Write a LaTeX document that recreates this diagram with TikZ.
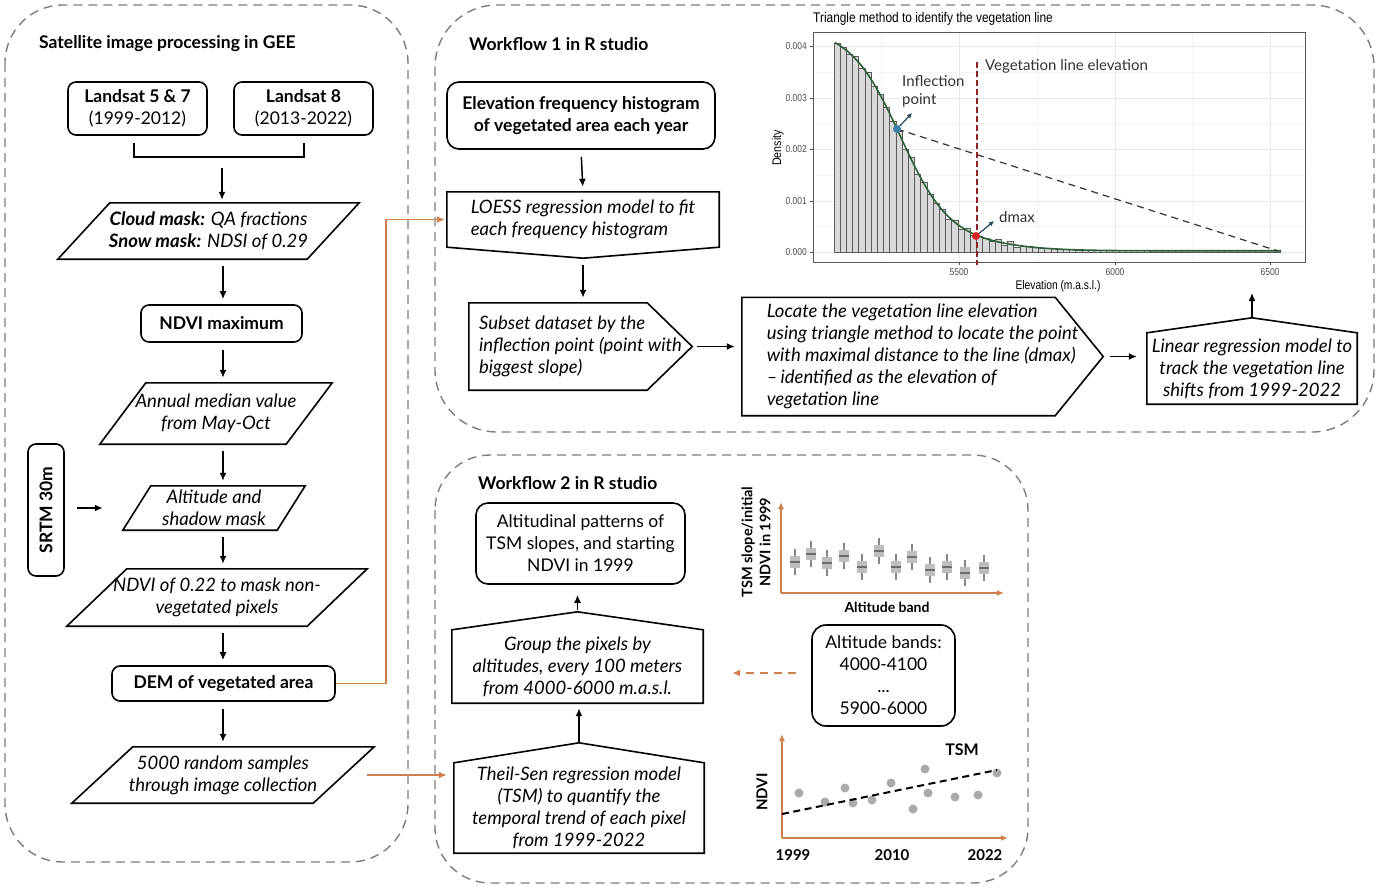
\documentclass[tikz,border=0pt]{standalone}
\usepackage{fontspec}
\setmainfont{Lato}
\newfontfamily\plotfont{Liberation Sans}
\usetikzlibrary{arrows.meta,calc}
\definecolor{orng}{RGB}{207,127,75}
\definecolor{panelgray}{RGB}{125,125,125}
\definecolor{curvegreen}{RGB}{45,95,55}
\definecolor{vred}{RGB}{140,35,40}
\definecolor{ipblue}{RGB}{65,125,170}
\definecolor{dotred}{RGB}{215,35,35}
\definecolor{slate}{RGB}{40,72,92}
\definecolor{bargray}{RGB}{217,217,217}
\definecolor{baredge}{RGB}{90,90,90}
\definecolor{gridgray}{RGB}{232,232,232}
\definecolor{gridminor}{RGB}{244,244,244}
\definecolor{ticktext}{RGB}{77,77,77}
\definecolor{bpgray}{RGB}{190,190,190}
\definecolor{bpwhisk}{RGB}{135,135,135}
\definecolor{dotgray}{RGB}{170,170,170}
\definecolor{annot}{RGB}{50,50,50}
\newcommand\mybody{\fontsize{17.5}{22}\selectfont}
\newcommand\myital{\fontsize{18.5}{22}\selectfont\itshape}
\newcommand\mytitle{\fontsize{17.5}{20}\selectfont\bfseries}
\newcommand\drawpara[2]{\draw[shp] ([xshift=#2]#1.north west) -- (#1.north east) -- ([xshift=-#2]#1.south east) -- (#1.south west) -- cycle;}
\tikzset{
  panel/.style={draw=panelgray, line width=1.4pt, dash pattern=on 9pt off 6pt},
  shp/.style={draw=black, line width=1.6pt, line join=miter},
  txt/.style={font=\mybody, align=center, inner sep=0pt},
  rbox/.style={txt, draw=black, line width=1.6pt, rounded corners=8pt},
  pnode/.style={txt, font=\myital},
  arr/.style={-{Latex[length=8pt,width=7pt]}, line width=1.5pt, shorten <=7pt, shorten >=5pt},
  oarr/.style={-{Latex[length=8pt,width=7pt]}, line width=1.6pt, orng},
  ttl/.style={font=\mytitle, anchor=west, inner sep=0pt},
  bar/.style={fill=bargray, draw=baredge, line width=0.8pt},
  oaxis/.style={-{Latex[length=7pt,width=6pt]}, line width=1.5pt, orng},
  lbl/.style={font=\fontsize{15}{17}\selectfont\bfseries, inner sep=0pt},
  ann/.style={font=\fontsize{15}{18}\selectfont, text=annot, inner sep=0pt, anchor=west, align=left},
  tick/.style={font=\plotfont\fontsize{10}{12}\selectfont, text=ticktext, inner sep=0pt},
}
\begin{document}
\begin{tikzpicture}[x=1pt,y=-1pt]
\useasboundingbox (0,0) rectangle (1378,889);
\fill[white] (0,0) rectangle (1378,889);

% ---------- panels ----------
\draw[panel, rounded corners=58pt] (5,5) rectangle (408,862);
\draw[panel, rounded corners=62pt] (435,5) rectangle (1374,432);
\draw[panel, rounded corners=55pt] (435,455) rectangle (1028,883);

\node[ttl] (t1) at (39,44) {Satellite image processing in GEE};
\node[ttl] (t2) at (469,44) {Workflow 1 in R studio};
\node[ttl] (t3) at (478,483) {Workflow 2 in R studio};

% ---------- left column ----------
\coordinate (col) at (223,0);
\node[rbox, minimum width=139pt, minimum height=53pt] (l57) at (137.5,108.5) {\textbf{Landsat 5 \& 7}\\(1999-2012)};
\node[rbox, minimum width=139pt, minimum height=53pt] (l8) at (303.5,108.5) {\textbf{Landsat 8}\\(2013-2022)};
\coordinate (bl) at (134,157);
\coordinate (br) at (304,157);
\coordinate (bm) at (222,157);
\draw[line width=1.5pt] (134,143) -- (bl) -- (br) -- (304,143);

\node[pnode, minimum width=301pt, minimum height=56pt] (cloud) at (208.5,231) {\textbf{Cloud mask:} QA fractions\\\textbf{Snow mask:} NDSI of 0.29};
\drawpara{cloud}{52pt}
\draw[arr, shorten <=11pt, shorten >=3pt] (bm) -- (cloud.north -| bm);

\node[rbox, font=\mybody\bfseries, minimum width=161pt, minimum height=37pt] (ndvimax) at (221.5,323.5) {NDVI maximum};
\draw[arr] (cloud.south -| col) -- (ndvimax.north -| col);

\node[pnode, minimum width=232pt, minimum height=61pt] (annual) at (216,413.5) {Annual median value\\from May-Oct};
\drawpara{annual}{46pt}
\draw[arr] (ndvimax.south -| col) -- (annual.north -| col);

\node[pnode, minimum width=182pt, minimum height=44pt] (alt) at (214,508) {Altitude and\\shadow mask};
\drawpara{alt}{28pt}
\draw[arr] (annual.south -| col) -- (alt.north -| col);

\node[rbox, font=\mybody\bfseries, rotate=90, minimum width=132pt, minimum height=36pt] (srtm) at (46,510) {SRTM 30m};
\draw[arr, shorten <=12pt, shorten >=20pt] (srtm.south |- alt.west) -- (alt.west);

\node[pnode, minimum width=300pt, minimum height=57pt] (ndvi22) at (217,597.5) {NDVI of 0.22 to mask non-\\vegetated pixels};
\drawpara{ndvi22}{60pt}
\draw[arr] (alt.south -| col) -- (ndvi22.north -| col);

\node[rbox, font=\mybody\bfseries, minimum width=223pt, minimum height=35pt] (dem) at (223.5,683.5) {DEM of vegetated area};
\draw[arr] (ndvi22.south -| col) -- (dem.north -| col);

\node[pnode, minimum width=302pt, minimum height=56pt] (random) at (223,775) {5000 random samples\\through image collection};
\drawpara{random}{61pt}
\draw[arr] (dem.south -| col) -- (random.north -| col);

% ---------- workflow 1 ----------
\node[rbox, font=\mybody\bfseries, rounded corners=12pt, minimum width=268pt, minimum height=67pt] (elev) at (581,115.5) {Elevation frequency histogram\\of vegetated area each year};

\node[pnode, align=left, minimum width=272pt, minimum height=55pt] (loess) at (583,219.5) {LOESS regression model to fit\\each frequency histogram};
\coordinate (loesstip) at ([yshift=-11pt]loess.south);
\draw[shp] (loess.north west) -- (loess.north east) -- (loess.south east) -- (loesstip) -- (loess.south west) -- cycle;
\draw[arr] (elev.south) -- (loess.north);

\node[pnode, align=left, minimum width=223pt, minimum height=87pt] (subset) at (580.5,346.5) {Subset dataset by the\\inflection point (point with\\biggest slope)};
\draw[shp] (subset.north west) -- ([xshift=-45pt]subset.north east) -- (subset.east) -- ([xshift=-45pt]subset.south east) -- (subset.south west) -- cycle;
\draw[arr] (loesstip) -- (subset.north -| loesstip);

\node[pnode, align=left, minimum width=361pt, minimum height=118pt] (locate) at (922.5,356.5) {Locate the vegetation line elevation\\using triangle method to locate the point\\with maximal distance to the line (dmax)\\\textendash\,identified as the elevation of\\vegetation line};
\draw[shp] (locate.north west) -- ([xshift=-48pt]locate.north east) -- (locate.east) -- ([xshift=-48pt]locate.south east) -- (locate.south west) -- cycle;
\draw[arr, shorten <=5pt, shorten >=7pt] (subset.east) -- (subset.east -| locate.west);

\node[pnode, minimum width=210pt, minimum height=71pt] (linreg) at (1252,368.5) {Linear regression model to\\track the vegetation line\\shifts from 1999-2022};
\coordinate (lrtip) at ([yshift=15pt]linreg.north);
\draw[shp] (linreg.south west) -- (linreg.north west) -- (lrtip) -- (linreg.north east) -- (linreg.south east) -- cycle;
\draw[arr, shorten <=7pt, shorten >=10pt] (locate.east) -- (locate.east -| linreg.west);
\coordinate (plotbot) at (1252,293);
\draw[arr, shorten <=0pt, shorten >=0pt] (lrtip) -- (plotbot);

% orange connector DEM -> LOESS
\draw[oarr] (dem.east) -- ++(50,0) |- ([xshift=-2pt]loess.west);

% ---------- histogram plot ----------
\node[font=\plotfont\fontsize{14}{16}\selectfont, anchor=west, inner sep=0pt] (ptitle) at (813,19) {\scalebox{0.85}[1]{Triangle method to identify the vegetation line}};
\foreach \yy in {72,123.5,175,226.5} \draw[gridminor, line width=0.6pt] (813,\yy) -- (1305,\yy);
\foreach \xx in {881,1037,1192.5} \draw[gridminor, line width=0.6pt] (\xx,32) -- (\xx,262);
\foreach \yy in {46,98,149,201,252} \draw[gridgray, line width=0.9pt] (813,\yy) -- (1305,\yy);
\foreach \xx in {959,1115,1270} \draw[gridgray, line width=0.9pt] (\xx,32) -- (\xx,262);
\foreach \i in {0,...,71}{
  \pgfmathsetmacro\xl{834+6.2*\i}
  \pgfmathsetmacro\xc{\xl+3.1}
  \pgfmathsetmacro\hh{215/(1+exp(min((\xc-900)/25,9))) + 8/(1+exp(min((\xc-1010)/30,9))) + 1.2 + (\i<30 ? 2.5*sin(\i*157) : 0)}
  \draw[bar] (\xl,252) rectangle (\xl+6.2,252-\hh);
}
\draw[curvegreen, line width=1.6pt] plot[domain=835:1281, samples=150] (\x, {252 - (215/(1+exp(min((\x-900)/25,9))) + 8/(1+exp(min((\x-1010)/30,9))) + 1.2)});
\draw[gray!70!black, line width=0.9pt] (813,32) rectangle (1305,262);
\foreach \yy/\lab in {46/0.004,98/0.003,149/0.002,201/0.001,252/0.000}{
  \draw[ticktext, line width=0.7pt] (810,\yy) -- (813,\yy);
  \node[tick, anchor=east] at (807,\yy) {\scalebox{0.85}[1]{\lab}};
}
\foreach \xx/\lab in {959/5500,1115/6000,1270/6500}{
  \draw[ticktext, line width=0.7pt] (\xx,262) -- (\xx,265);
  \node[tick] at (\xx,272) {\scalebox{0.85}[1]{\lab}};
}
\node[font=\plotfont\fontsize{12.5}{14}\selectfont, inner sep=0pt] (xtitle) at (1058,286) {\scalebox{0.82}[1]{Elevation (m.a.s.l.)}};
\node[font=\plotfont\fontsize{12.5}{14}\selectfont, inner sep=0pt, rotate=90] (ytitle) at (778,148) {\scalebox{0.85}[1]{Density}};
\draw[gray!40!black, line width=1.2pt, dash pattern=on 7pt off 5pt] (897,129) -- (1278,251);
\draw[vred, line width=1.5pt, dash pattern=on 6pt off 3pt] (977,62) -- (977,265);
\coordinate (ipt) at (897,129);
\coordinate (dpt) at (976,236);
\draw[slate, line width=1.2pt, -{Latex[length=5pt,width=5pt]}] (ipt) -- (912,113);
\draw[slate, line width=1.2pt, -{Latex[length=5pt,width=5pt]}] (dpt) -- (994,221);
\fill[ipblue] (ipt) circle (4pt);
\fill[dotred] (dpt) circle (4pt);
\node[ann] (inflab) at (902,91.5) {Inflection\\point};
\node[ann] (veglab) at (985,66) {Vegetation line elevation};
\node[ann] (dmaxlab) at (999,217) {dmax};

% ---------- workflow 2 ----------
\node[rbox, rounded corners=12pt, minimum width=209pt, minimum height=81pt] (altpat) at (580.5,543.5) {Altitudinal patterns of\\TSM slopes, and starting\\NDVI in 1999};

\node[pnode, minimum width=251pt, minimum height=73pt] (group) at (577.5,666.5) {Group the pixels by\\altitudes, every 100 meters\\from 4000-6000 m.a.s.l.};
\coordinate (grtip) at ([yshift=18pt]group.north);
\draw[shp] (group.south west) -- (group.north west) -- (grtip) -- (group.north east) -- (group.south east) -- cycle;
\draw[arr, shorten <=2pt, shorten >=10pt] (grtip) -- (altpat.south -| grtip);

\node[pnode, minimum width=250pt, minimum height=90pt] (theil) at (579,808) {Theil-Sen regression model\\(TSM) to quantify the\\temporal trend of each pixel\\from 1999-2022};
\coordinate (thtip) at ([yshift=20pt]theil.north);
\draw[shp] (theil.south west) -- (theil.north west) -- (thtip) -- (theil.north east) -- (theil.south east) -- cycle;
\draw[arr, shorten <=1pt, shorten >=5pt] (thtip) -- (group.south -| thtip);

% orange connector random -> Theil-Sen
\draw[oarr] ([xshift=-7pt]random.east) -- ([xshift=-7pt]random.east -| theil.west);

\node[rbox, font=\mybody, rounded corners=14pt, minimum width=143pt, minimum height=101pt] (bands) at (883.5,675.5) {Altitude bands:\\4000-4100\\...\\5900-6000};
\coordinate (oy) at (0,673);
\draw[oarr, dash pattern=on 8pt off 6pt, shorten <=15pt, shorten >=29pt] (bands.west |- oy) -- (group.east |- oy);

% box plot
\coordinate (bpo) at (781,593);
\draw[oaxis] (bpo) -- (781,502);
\draw[oaxis] (bpo) -- (1004,593);
\foreach \xx/\mm in {795/562,811/554,827/563,844/556,862/567,879/551,896/567,912/557,930/570,947/567,965/573,984/568}{
  \draw[bpwhisk, line width=1.5pt] (\xx,\mm-13) -- (\xx,\mm+13);
  \fill[bpgray] (\xx-5,\mm-6) rectangle (\xx+5,\mm+6);
  \draw[bpwhisk!80!black, line width=1.2pt] (\xx-5,\mm) -- (\xx+5,\mm);
}
\node[lbl, font=\fontsize{14.5}{18}\selectfont\bfseries, rotate=90, align=center] (bpy) at (756,542) {TSM slope/initial\\NDVI in 1999};
\node[lbl, font=\fontsize{14}{16}\selectfont\bfseries] (bpx) at (887,607) {Altitude band};

% scatter plot
\coordinate (sco) at (782,838);
\draw[oaxis] (sco) -- (782,734);
\draw[oaxis] (sco) -- (1008,838);
\foreach \xx/\yy in {799/793,825/802,845/788,853/803,872/800,891/783,913/809,925/769,928/793,955/797,978/795,997/773}
  \fill[dotgray] (\xx,\yy) circle (4.5pt);
\draw[black, line width=2pt, dash pattern=on 7pt off 4.5pt] (782,814) -- (997,770);
\node[lbl, rotate=90] (ndvilab) at (762,792) {NDVI};
\node[lbl, font=\fontsize{16}{18}\selectfont\bfseries] (tsmlab) at (962,750) {TSM};
\node[lbl] (y1) at (793,855) {1999};
\node[lbl] (y2) at (892,855) {2010};
\node[lbl] (y3) at (985,855) {2022};
\end{tikzpicture}
\end{document}
